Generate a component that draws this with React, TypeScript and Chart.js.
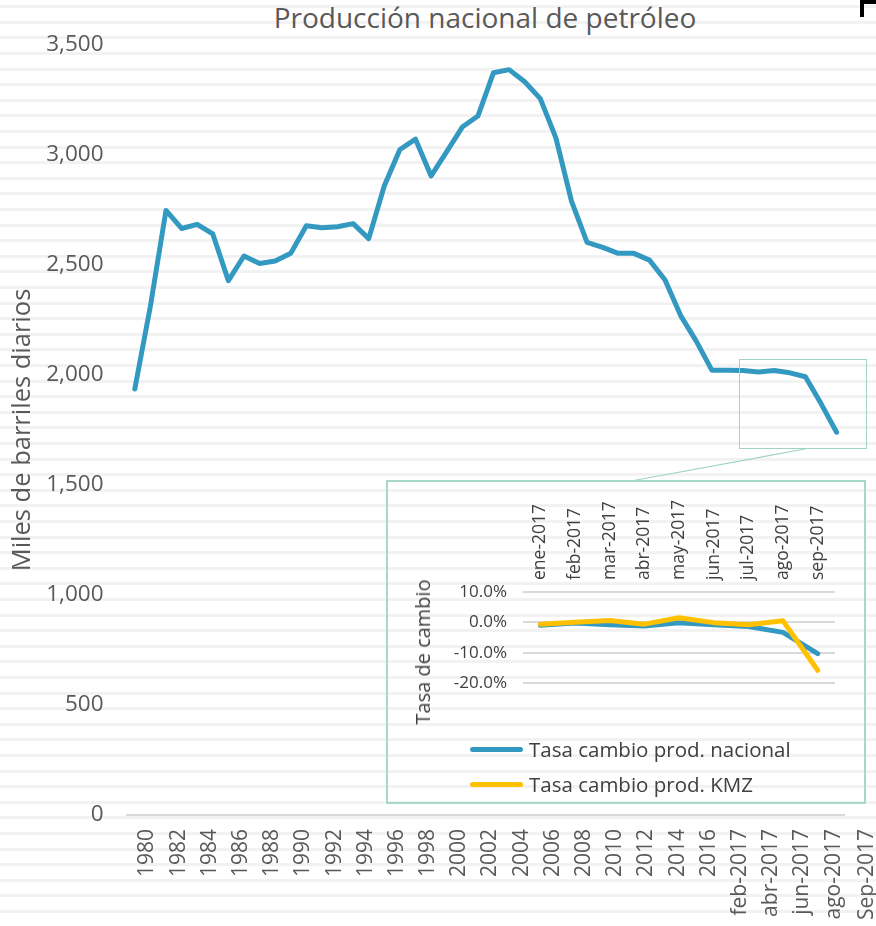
import React, { useEffect, useRef } from "react";
import { Chart, registerables } from "chart.js";

Chart.register(...registerables);

// ---------- Data ----------
const categories = [
  "1980", "1981", "1982", "1983", "1984", "1985", "1986", "1987", "1988", "1989",
  "1990", "1991", "1992", "1993", "1994", "1995", "1996", "1997", "1998", "1999",
  "2000", "2001", "2002", "2003", "2004", "2005", "2006", "2007", "2008", "2009",
  "2010", "2011", "2012", "2013", "2014", "2015", "2016",
  "ene-2017", "feb-2017", "mar-2017", "abr-2017", "may-2017", "jun-2017", "jul-2017", "ago-2017", "sep-2017",
];

const production = [
  1936, 2313, 2748, 2666, 2685, 2641, 2429, 2541, 2507, 2518,
  2553, 2678, 2669, 2674, 2688, 2620, 2860, 3025, 3072, 2905,
  3015, 3127, 3177, 3374, 3388, 3333, 3256, 3078, 2790, 2603,
  2580, 2553, 2553, 2522, 2432, 2270, 2154,
  2022, 2022, 2020, 2014, 2020, 2010, 1992, 1870, 1740,
];

const extraAxisLabel = "Sep-2017";

const insetMonths = [
  "ene-2017", "feb-2017", "mar-2017", "abr-2017", "may-2017", "jun-2017", "jul-2017", "ago-2017", "sep-2017",
];
const rateNacional = [-1.0, -0.2, -0.8, -1.2, -0.1, -0.8, -1.4, -3.3, -10.3];
const rateKMZ = [-0.6, 0.0, 0.6, -0.6, 1.5, -0.1, -0.8, 0.5, -15.8];

const insetTicks = [10, 0, -10, -20];

const mainTitle = "Producción nacional de petróleo";
const mainYTitle = "Miles de barriles diarios";
const insetYTitle = "Tasa de cambio";
const legendNacional = "Tasa cambio prod. nacional";
const legendKMZ = "Tasa cambio prod. KMZ";

// ---------- Styles ----------
const BLUE = "#3399C1";
const YELLOW = "#FFC000";
const GREEN_BOX = "#9fd4bf";
const TEXT_GRAY = "#595959";
const TEXT_DARK = "#404040";
const FONT = "'Open Sans', 'DejaVu Sans', sans-serif";

export default function App() {
  const mainRef = useRef<HTMLCanvasElement | null>(null);
  const insetRef = useRef<HTMLCanvasElement | null>(null);

  useEffect(() => {
    if (!mainRef.current || !insetRef.current) return;

    const main = new Chart(mainRef.current, {
      type: "line",
      data: {
        labels: categories,
        datasets: [
          {
            label: "Producción",
            data: production,
            borderColor: BLUE,
            backgroundColor: BLUE,
            borderWidth: 5,
            pointRadius: 0,
            borderJoinStyle: "round",
            borderCapStyle: "round",
            tension: 0,
            fill: false,
          },
        ],
      },
      options: {
        animation: false,
        responsive: false,
        maintainAspectRatio: false,
        layout: { padding: { top: 45, right: 18, bottom: 0, left: 0 } },
        plugins: {
          legend: { display: false },
          tooltip: { enabled: false },
          title: { display: false },
        },
        scales: {
          x: {
            type: "category",
            offset: true,
            grid: { display: false, drawTicks: false },
            border: { display: true, color: "#d9d9d9", width: 2 },
            ticks: {
              autoSkip: false,
              minRotation: 90,
              maxRotation: 90,
              padding: 14,
              labelOffset: 12.6,
              color: TEXT_GRAY,
              font: { family: FONT, size: 21 },
              callback: (_v: any, i: number) => (i % 2 === 0 ? categories[i] : ""),
            },
            afterFit: (s: any) => {
              s.height = 111;
            },
          },
          y: {
            min: 0,
            max: 3500,
            grid: { display: false, drawTicks: false },
            border: { display: false },
            ticks: {
              stepSize: 500,
              padding: 23.5,
              color: TEXT_GRAY,
              font: { family: FONT, size: 22.5 },
              callback: (v: any) => Number(v).toLocaleString("en-US"),
            },
            title: {
              display: true,
              text: mainYTitle,
              color: TEXT_GRAY,
              font: { family: FONT, size: 25.5 },
              padding: { top: 7.5, bottom: 0 },
            },
            afterFit: (s: any) => {
              s.width = 127;
            },
          },
        },
      },
    } as any);

    const inset = new Chart(insetRef.current, {
      type: "line",
      data: {
        labels: insetMonths,
        datasets: [
          {
            label: legendNacional,
            data: rateNacional,
            borderColor: BLUE,
            backgroundColor: BLUE,
            borderWidth: 5,
            pointRadius: 0,
            borderJoinStyle: "round",
            borderCapStyle: "round",
            tension: 0,
            order: 2,
          },
          {
            label: legendKMZ,
            data: rateKMZ,
            borderColor: YELLOW,
            backgroundColor: YELLOW,
            borderWidth: 5,
            pointRadius: 0,
            borderJoinStyle: "round",
            borderCapStyle: "round",
            tension: 0,
            order: 1,
          },
        ],
      },
      options: {
        animation: false,
        responsive: false,
        maintainAspectRatio: false,
        layout: { padding: { top: 0, right: 31, bottom: 121, left: 0 } },
        plugins: {
          legend: { display: false },
          tooltip: { enabled: false },
        },
        scales: {
          x: {
            type: "category",
            position: "top",
            offset: true,
            grid: { display: false, drawTicks: false },
            border: { display: false },
            ticks: {
              autoSkip: false,
              minRotation: 90,
              maxRotation: 90,
              padding: 12,
              labelOffset: 21,
              color: TEXT_DARK,
              font: { family: FONT, size: 17.5 },
            },
            afterFit: (s: any) => {
              s.height = 112;
            },
          },
          y: {
            min: insetTicks[insetTicks.length - 1],
            max: insetTicks[0],
            grid: { color: "#d9d9d9", lineWidth: 2, drawTicks: false },
            border: { display: false },
            ticks: {
              stepSize: 10,
              padding: 16,
              color: TEXT_DARK,
              font: { family: FONT, size: 17 },
              callback: (v: any) => `${Number(v).toFixed(1)}%`,
            },
            afterFit: (s: any) => {
              s.width = 137;
            },
          },
        },
      },
    } as any);

    return () => {
      main.destroy();
      inset.destroy();
    };
  }, []);

  const stripes =
    "repeating-linear-gradient(180deg, #ffffff 0px, #ffffff 5.2px, #f2f2f2 5.2px, #f2f2f2 8.2px, #ffffff 8.2px, #ffffff 15.6px)";

  return (
    <div
      style={{
        position: "absolute",
        left: 0,
        top: 0,
        width: 876,
        height: 926,
        overflow: "hidden",
        backgroundColor: "#ffffff",
        backgroundImage: stripes,
        fontFamily: FONT,
      }}
    >
      {/* main title */}
      <div
        style={{
          position: "absolute",
          left: 485,
          top: 3.4,
          transform: "translateX(-50%)",
          fontSize: 28,
          lineHeight: "28px",
          color: TEXT_GRAY,
          whiteSpace: "nowrap",
        }}
      >
        {mainTitle}
      </div>
      {/* corner of a neighbouring black frame, cut off at the top right */}
      <div
        style={{
          position: "absolute",
          left: 860,
          top: 0,
          width: 24,
          height: 17,
          borderTop: "4px solid #000",
          borderLeft: "4.5px solid #000",
          boxSizing: "border-box",
        }}
      />

      <canvas
        ref={mainRef}
        width={876}
        height={926}
        style={{ position: "absolute", left: 0, top: 0, width: 876, height: 926 }}
      />

      {/* extra axis label */}
      <div
        style={{
          position: "absolute",
          left: 865,
          top: 829,
          transform: "translate(-100%, -50%) rotate(-90deg)",
          transformOrigin: "100% 50%",
          fontSize: 21,
          lineHeight: "24px",
          color: TEXT_GRAY,
          whiteSpace: "nowrap",
        }}
      >
        {extraAxisLabel}
      </div>

      {/* zoom box on the main chart */}
      <div
        style={{
          position: "absolute",
          left: 739,
          top: 359,
          width: 128,
          height: 90,
          border: `1.5px solid ${GREEN_BOX}`,
          boxSizing: "border-box",
        }}
      />
      <svg
        width={876}
        height={926}
        style={{ position: "absolute", left: 0, top: 0, pointerEvents: "none" }}
      >
        <line x1={805} y1={449} x2={631} y2={481} stroke={GREEN_BOX} strokeWidth={1.2} />
      </svg>

      {/* inset panel */}
      <div
        style={{
          position: "absolute",
          left: 386,
          top: 480,
          width: 480,
          height: 324,
          border: `2px solid #a8d9c5`,
          boxSizing: "border-box",
        }}
      />
      <canvas
        ref={insetRef}
        width={480}
        height={324}
        style={{ position: "absolute", left: 386, top: 480, width: 480, height: 324 }}
      />
      <div
        style={{
          position: "absolute",
          left: 423,
          top: 652,
          transform: "translate(-50%, -50%) rotate(-90deg)",
          fontSize: 20,
          lineHeight: "24px",
          color: TEXT_DARK,
          whiteSpace: "nowrap",
        }}
      >
        {insetYTitle}
      </div>
      {[
        { label: legendNacional, color: BLUE, cy: 749 },
        { label: legendKMZ, color: YELLOW, cy: 784 },
      ].map((it) => (
        <div
          key={it.label}
          style={{
            position: "absolute",
            left: 470,
            top: it.cy - 14,
            height: 28,
            display: "flex",
            alignItems: "center",
            whiteSpace: "nowrap",
          }}
        >
          <div
            style={{
              width: 53,
              height: 5,
              borderRadius: 3,
              background: it.color,
              marginRight: 6,
            }}
          />
          <span style={{ fontSize: 20.5, lineHeight: "28px", color: TEXT_DARK }}>{it.label}</span>
        </div>
      ))}
    </div>
  );
}
